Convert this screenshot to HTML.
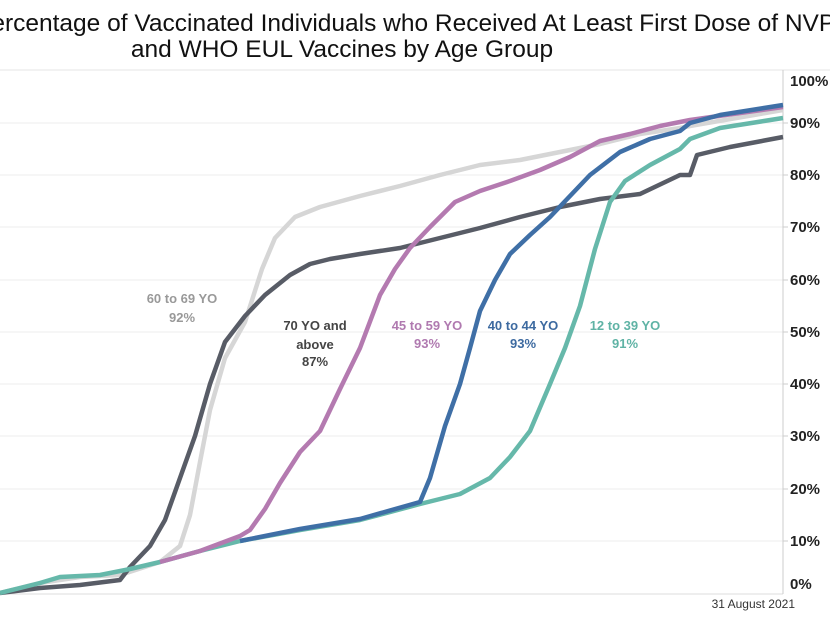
<!DOCTYPE html><html><head><style>body{margin:0;width:830px;height:622px;overflow:hidden;background:#fff;font-family:"Liberation Sans",sans-serif}</style></head><body>
<svg width="830" height="622" xmlns="http://www.w3.org/2000/svg" style="position:absolute;left:0;top:0">
<text x="-25" y="31" font-size="24.5" fill="#111">Percentage of Vaccinated Individuals who Received At Least First Dose of NVP</text>
<text x="342" y="57" font-size="24.5" fill="#111" text-anchor="middle">and WHO EUL Vaccines by Age Group</text>
<line x1="0" y1="70" x2="830" y2="70" stroke="#e4e4e4"/>
<g stroke="#eeeeee" stroke-width="1">
<line x1="0" y1="123" x2="783" y2="123"/><line x1="0" y1="175" x2="783" y2="175"/><line x1="0" y1="227" x2="783" y2="227"/><line x1="0" y1="280" x2="783" y2="280"/><line x1="0" y1="332" x2="783" y2="332"/><line x1="0" y1="384" x2="783" y2="384"/><line x1="0" y1="436" x2="783" y2="436"/><line x1="0" y1="489" x2="783" y2="489"/><line x1="0" y1="541" x2="783" y2="541"/></g>
<line x1="0" y1="594" x2="783" y2="594" stroke="#ddd"/>
<line x1="783" y1="70" x2="783" y2="594" stroke="#ccc"/>
<g font-size="15" fill="#222" font-weight="bold"><text x="790" y="86">100%</text><text x="790" y="128">90%</text><text x="790" y="180">80%</text><text x="790" y="232">70%</text><text x="790" y="285">60%</text><text x="790" y="337">50%</text><text x="790" y="389">40%</text><text x="790" y="441">30%</text><text x="790" y="494">20%</text><text x="790" y="546">10%</text><text x="790" y="589">0%</text></g>
<g stroke="#ccc"><line x1="783" y1="123" x2="788" y2="123"/><line x1="783" y1="175" x2="788" y2="175"/><line x1="783" y1="227" x2="788" y2="227"/><line x1="783" y1="280" x2="788" y2="280"/><line x1="783" y1="332" x2="788" y2="332"/><line x1="783" y1="384" x2="788" y2="384"/><line x1="783" y1="436" x2="788" y2="436"/><line x1="783" y1="489" x2="788" y2="489"/><line x1="783" y1="541" x2="788" y2="541"/></g>
<text x="795" y="608" font-size="12" fill="#333" text-anchor="end">31 August 2021</text>
<g fill="none" stroke-width="4.5" stroke-linejoin="round">
<polyline stroke="#d6d6d6" points="0,593 40,583 80,577 120,575 160,562 180,546 190,515 200,462 210,410 225,358 245,322 262,269 275,238 295,217 320,207 360,196 400,186 440,175 480,165 520,160 560,152 600,144 640,134 680,128 690,126 783,110"/>
<polyline stroke="#585c66" points="0,593 40,588 80,585 120,580 130,567 150,546 165,520 180,478 195,436 210,384 225,342 245,316 265,295 290,275 310,264 330,259 360,254 400,248 440,238 480,228 520,217 560,207 600,199 640,194 680,175 690,175 697,155 730,147 783,137"/>
<polyline stroke="#66b8aa" points="0,593 20,588 40,583 60,577 100,575 130,569 160,562 200,551 240,541 300,530 360,520 420,504 460,494 490,478 510,457 530,431 550,384 565,348 580,306 595,249 610,202 625,181 650,165 680,149 690,139 720,128 783,118"/>
<polyline stroke="#b47ab0" points="160,562 200,551 240,536 250,530 265,509 280,483 300,452 320,431 340,389 360,348 380,295 395,269 410,248 430,227 455,202 480,191 510,181 540,170 570,157 600,141 630,134 660,126 690,120 783,107"/>
<polyline stroke="#3f6fa6" points="240,541 300,529 360,519 420,502 430,478 445,426 460,384 470,348 480,311 495,280 510,254 530,235 550,217 570,196 590,175 620,152 650,139 680,131 690,123 720,115 783,105"/>
</g>
<g font-size="13" font-weight="bold" text-anchor="middle">
<text x="182" y="303" fill="#999">60 to 69 YO</text><text x="182" y="322" fill="#999">92%</text>
<text x="315" y="330" fill="#444">70 YO and</text><text x="315" y="349" fill="#444">above</text><text x="315" y="366" fill="#444">87%</text>
<text x="427" y="330" fill="#b07ab0">45 to 59 YO</text><text x="427" y="348" fill="#b07ab0">93%</text>
<text x="523" y="330" fill="#3d6aa0">40 to 44 YO</text><text x="523" y="348" fill="#3d6aa0">93%</text>
<text x="625" y="330" fill="#5fb3a5">12 to 39 YO</text><text x="625" y="348" fill="#5fb3a5">91%</text>
</g>
</svg></body></html>
